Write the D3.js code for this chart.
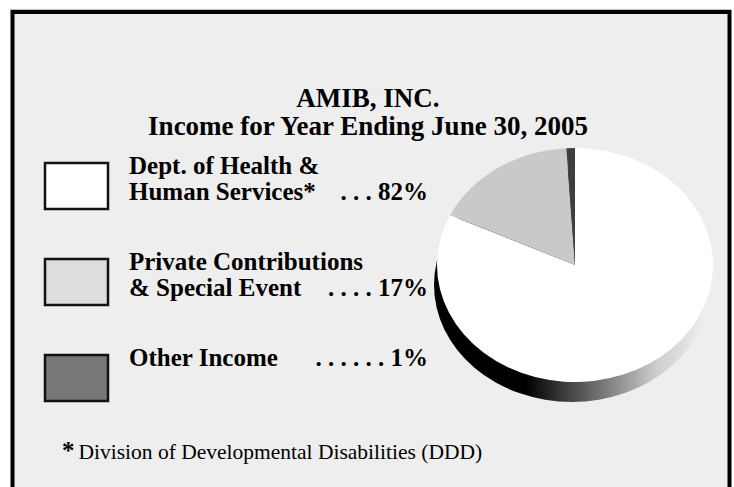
<!DOCTYPE html>
<html>
<head>
<meta charset="utf-8">
<script src="https://cdn.jsdelivr.net/npm/d3@7/dist/d3.min.js"></script>
<style>
  html, body { margin: 0; padding: 0; background: #fff; }
  svg { display: block; }
  text { font-family: "Liberation Serif", "Times New Roman", serif; fill: #000; }
</style>
</head>
<body>
<div id="chart"></div>
<script>
// AMIB income pie, year ending June 30 2005
const titleLines = ['AMIB, INC.', 'Income for Year Ending June 30, 2005'];
const categories = ['Dept. of Health & Human Services*', 'Private Contributions & Special Event', 'Other Income'];
const labelLines = [['Dept. of Health &', 'Human Services*'], ['Private Contributions', '& Special Event'], ['Other Income']];
const leaders = ['. . .', '. . . .', '. . . . . .'];
const shares = [82, 17, 1];
const pctLabels = ['82%', '17%', '1%'];
const footnote = 'Division of Developmental Disabilities (DDD)';

const legendColors = ['#ffffff', '#dddddd', '#777777'];
const sliceColors = ['#ffffff', '#c9c9c9', '#3e3e3e'];

(function(){
  const width = 734, height = 487;
  const svg = d3.select('#chart').append('svg')
    .attr('width', width).attr('height', height);

  // frame
  svg.append('line').attr('x1', 10).attr('x2', 731).attr('y1', 9.5).attr('y2', 9.5)
    .attr('stroke', '#bdbdbd').attr('stroke-width', 1);
  svg.append('rect').attr('x', 12.5).attr('y', 12).attr('width', 717).attr('height', 500)
    .attr('fill', '#eeeeee').attr('stroke', '#000').attr('stroke-width', 4);

  // title
  svg.append('g').selectAll('text').data(titleLines).enter().append('text')
    .attr('x', 368).attr('y', (d, i) => 107 + i * 28)
    .attr('text-anchor', 'middle')
    .style('font-size', '27px').style('font-weight', 'bold')
    .text(d => d);

  // legend
  const rowY = d3.scalePoint().domain(categories).range([162, 354]);
  const rows = svg.append('g').selectAll('g').data(categories).enter().append('g')
    .attr('transform', d => `translate(0,${rowY(d)})`);

  rows.append('rect')
    .attr('x', 45).attr('y', 1).attr('width', 63).attr('height', 46)
    .attr('fill', (d, i) => legendColors[i])
    .attr('stroke', '#111').attr('stroke-width', 2.5);

  rows.each(function(d, i){
    const g = d3.select(this);
    const lines = labelLines[i];
    lines.forEach((t, j) => {
      g.append('text').attr('x', 129).attr('y', 12 + j * 26)
        .style('font-size', '25px').style('font-weight', 'bold').text(t);
    });
    g.append('text').attr('x', 428).attr('y', 12 + (lines.length - 1) * 26)
      .attr('text-anchor', 'end')
      .style('font-size', '25px').style('font-weight', 'bold')
      .text(leaders[i] + ' ' + pctLabels[i]);
  });

  // pie
  const cx = 575, cy = 265, rx = 138, ry = 117, depth = 20;
  const defs = svg.append('defs');
  const grad = defs.append('linearGradient').attr('id', 'side')
    .attr('gradientUnits', 'userSpaceOnUse')
    .attr('x1', cx - rx).attr('x2', cx + rx).attr('y1', 0).attr('y2', 0);
  [[0, '#000'], [0.32, '#000'], [0.6, '#777'], [0.8, '#cfcfcf'], [1, '#f2f2f2']]
    .forEach(s => grad.append('stop').attr('offset', s[0]).attr('stop-color', s[1]));

  svg.append('ellipse')
    .attr('cx', cx - 3).attr('cy', cy + depth).attr('rx', rx).attr('ry', ry)
    .attr('fill', 'url(#side)');

  const pie = d3.pie().sort(null).value(d => d);
  const arc = d3.arc().innerRadius(0).outerRadius(rx);
  svg.append('g')
    .attr('transform', `translate(${cx},${cy}) scale(1,${ry / rx})`)
    .selectAll('path').data(pie(shares)).enter().append('path')
    .attr('d', arc)
    .attr('fill', (d, i) => sliceColors[i])
    .append('title').text((d, i) => `${categories[i]}: ${pctLabels[i]}`);

  // footnote
  const fn = svg.append('text').attr('x', 62).attr('y', 459).style('font-size', '21.5px');
  fn.append('tspan').style('font-weight', 'bold').style('font-size', '25px').text('*');
  fn.append('tspan').attr('dx', 4).text(footnote);
})();
</script>
</body>
</html>
